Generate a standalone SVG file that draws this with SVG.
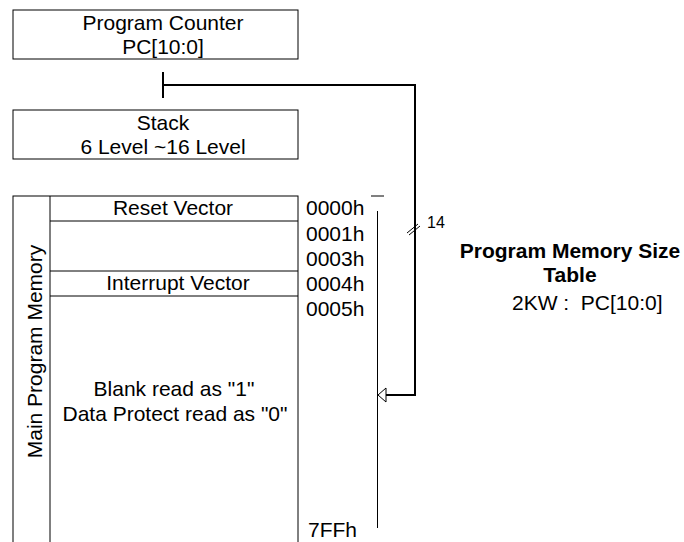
<svg xmlns="http://www.w3.org/2000/svg" width="684" height="542" viewBox="0 0 684 542">
<style>
text{font-family:"Liberation Sans",Arial,sans-serif;font-size:21px;fill:#000}
.c{text-anchor:middle}
.b{font-weight:bold}
.box{fill:#fff;stroke:#000;stroke-width:1}
.ln{stroke:#000;stroke-width:1;fill:none}
.conn{stroke:#000;stroke-width:2;fill:none}
</style>
<rect width="684" height="542" fill="#fff"/>
<g id="program-counter">
<rect class="box" x="13" y="10" width="285" height="49"/>
<text class="c" x="163" y="29.5">Program Counter</text>
<text class="c" x="163" y="53.5">PC[10:0]</text>
</g>
<g id="stack">
<rect class="box" x="13" y="110" width="285" height="49"/>
<text class="c" x="163" y="130">Stack</text>
<text class="c" x="163" y="154">6 Level ~16 Level</text>
</g>
<g id="main-memory">
<rect class="box" x="13" y="196" width="285" height="360"/>
<line class="ln" x1="50" y1="196" x2="50" y2="556"/>
<line class="ln" x1="50" y1="221" x2="298" y2="221"/>
<line class="ln" x1="50" y1="271" x2="298" y2="271"/>
<line class="ln" x1="50" y1="296" x2="298" y2="296"/>
<text class="c" transform="translate(41.5,351.5) rotate(-90)" x="0" y="0">Main Program Memory</text>
<text class="c" x="173" y="215">Reset Vector</text>
<text class="c" x="178" y="290">Interrupt Vector</text>
<text class="c" x="174" y="396">Blank read as "1"</text>
<text class="c" x="175" y="421">Data Protect read as "0"</text>
</g>
<g id="addresses">
<text x="306" y="215">0000h</text>
<text x="306" y="241">0001h</text>
<text x="306" y="266">0003h</text>
<text x="306" y="291">0004h</text>
<text x="306" y="316">0005h</text>
<text x="308" y="537">7FFh</text>
</g>
<g id="address-range">
<line class="ln" x1="371" y1="196" x2="384" y2="196"/>
<line class="ln" x1="377.5" y1="211" x2="377.5" y2="528"/>
</g>
<g id="size-table">
<text class="c b" x="570" y="258">Program Memory Size</text>
<text class="c b" x="570" y="282">Table</text>
<text x="512" y="310" xml:space="preserve">2KW :  PC[10:0]</text>
</g>
<g id="connectors">
<line class="conn" x1="163" y1="72" x2="163" y2="98"/>
<polyline class="conn" points="163,85 415,85 415,395 386,395"/>
<polygon points="378,395 386,388 386,402" fill="#fff" stroke="#000" stroke-width="1"/>
<line class="ln" x1="407" y1="233" x2="418" y2="224"/>
<line class="ln" x1="409" y1="235" x2="420" y2="226"/>
<text x="427" y="228" style="font-size:16px">14</text>
</g>
</svg>
